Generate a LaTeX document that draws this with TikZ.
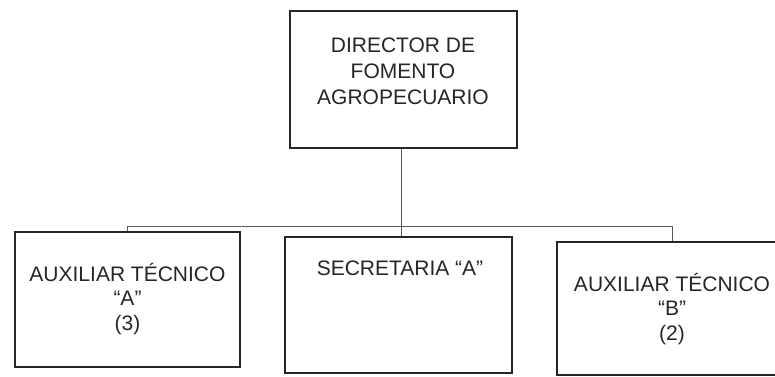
\documentclass[tikz,border=0pt]{standalone}
\usepackage{fontspec}
\setmainfont{Liberation Sans}
\begin{document}
\begin{tikzpicture}[x=1pt,y=-1pt,
  box/.style={draw=black!85, line width=1.3pt, rectangle, inner sep=0pt},
  lbl/.style={align=center, font=\fontsize{21}{24.5}\selectfont, inner sep=0pt, text=black!85},
  conn/.style={draw=black!65, line width=0.8pt}]
\useasboundingbox (0,0) rectangle (775,376);
\clip (0,0) rectangle (775,376);
\fill[white] (0,0) rectangle (775,376);
% boxes
\node[box, minimum width=227pt, minimum height=137pt] (dir) at (403.5,79.5) {};
\node[box, minimum width=225pt, minimum height=135pt] (auxA) at (127.5,299.5) {};
\node[box, minimum width=227pt, minimum height=136pt] (sec) at (398.5,305) {};
\node[box, minimum width=230pt, minimum height=133pt] (auxB) at (672,308.5) {};
% texts
\node[lbl, font=\fontsize{21}{26}\selectfont] (dirtext) at (403,71) {DIRECTOR DE\\FOMENTO\\AGROPECUARIO};
\node[lbl] (auxAtext) at (127.5,299) {AUXILIAR TÉCNICO\\“A”\\(3)};
\node[lbl] (sectext) at (400,268) {SECRETARIA “A”};
\node[lbl] (auxBtext) at (672,309) {AUXILIAR TÉCNICO\\“B”\\(2)};
% connectors
\coordinate (bus) at (401,226);
\draw[conn] (dir.south -| bus) -- (sec.north -| bus);
\draw[conn] (auxA.north) -- (auxA.north |- bus) -- (auxB.north |- bus) -- (auxB.north);
\end{tikzpicture}
\end{document}
